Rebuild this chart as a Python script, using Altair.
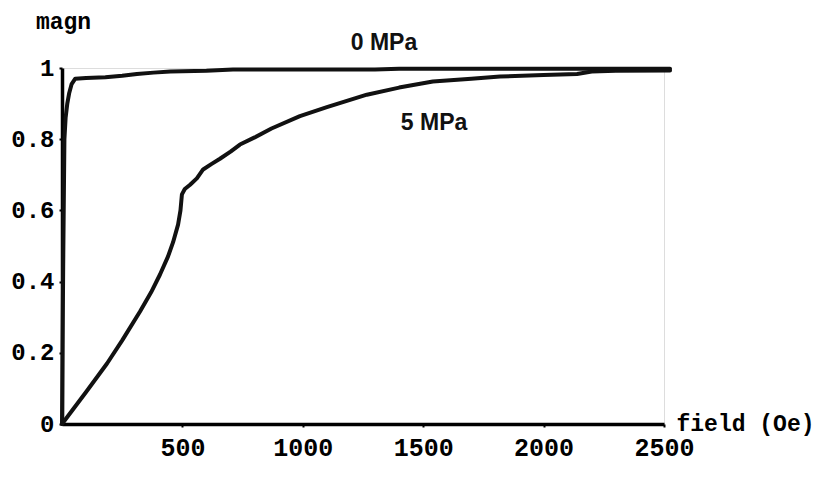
import altair as alt
import pandas as pd

# 0 MPa curve
field_0 = [0, 5, 10, 15, 22, 30, 40, 55, 100, 180, 250, 311, 380, 450, 600, 710, 1300, 1400, 2525]
magn_0 = [0, 0.45, 0.8, 0.86, 0.9, 0.93, 0.955, 0.97, 0.972, 0.974, 0.978, 0.983, 0.987, 0.99,
          0.992, 0.996, 0.996, 0.998, 0.998]

# 5 MPa curve
field_5 = [0, 50, 100, 187, 250, 324, 370, 407, 440, 461, 482, 492, 498, 510, 532, 560, 586, 620,
           656, 700, 739, 800, 870, 988, 1100, 1266, 1400, 1540, 1700, 1819, 2000, 2139, 2200,
           2300, 2525]
magn_5 = [0, 0.045, 0.09, 0.17, 0.235, 0.316, 0.37, 0.42, 0.47, 0.51, 0.56, 0.6, 0.645, 0.66,
          0.672, 0.69, 0.715, 0.73, 0.745, 0.765, 0.785, 0.805, 0.83, 0.865, 0.89, 0.925, 0.945,
          0.962, 0.97, 0.976, 0.98, 0.983, 0.99, 0.992, 0.993]

# curve labels
label_text = ["0 MPa", "5 MPa"]
label_field = [1337, 1545]
label_magn = [1.069, 0.845]

x_ticks = [500, 1000, 1500, 2000, 2500]
y_ticks = [0, 0.2, 0.4, 0.6, 0.8, 1]

rows = []
for f, m in zip(field_0, magn_0):
    rows.append({"field": f, "magn": m, "series": "0 MPa"})
for f, m in zip(field_5, magn_5):
    rows.append({"field": f, "magn": m, "series": "5 MPa"})
df = pd.DataFrame(rows)
df_lab = pd.DataFrame({"text": label_text, "field": label_field, "magn": label_magn})

mono = "Liberation Mono"

xs = alt.Scale(domain=[0, 2500], nice=False, zero=True)
ys = alt.Scale(domain=[0, 1], nice=False)

lines = alt.Chart(df).mark_line(color="#111111", strokeWidth=4, strokeJoin="round",
                                strokeCap="round", clip=False).encode(
    x=alt.X("field:Q", scale=xs,
            axis=alt.Axis(values=x_ticks, format="d", title="field (Oe)",
                          titleX=614, titleY=-1, titleAlign="left", titleBaseline="middle",
                          titleFont=mono, titleFontSize=23, titleFontWeight="bold",
                          labelFont=mono, labelFontSize=25, labelFontWeight="bold",
                          labelPadding=8, tickSize=3, tickColor="black", tickWidth=2,
                          labelFlush=False, labelOverlap=False,
                          domainColor="black", domainWidth=3.5, grid=False,
                          labelColor="black", titleColor="black")),
    y=alt.Y("magn:Q", scale=ys,
            axis=alt.Axis(values=y_ticks, format="~g", title="magn",
                          titleAngle=0, titleX=1, titleY=-47, titleAlign="center",
                          titleBaseline="middle",
                          titleFont=mono, titleFontSize=23, titleFontWeight="bold",
                          labelFont=mono, labelFontSize=24, labelFontWeight="bold",
                          labelPadding=5, tickSize=3, tickColor="black", tickWidth=2,
                          labelFlush=False, labelOverlap=False,
                          domainColor="black", domainWidth=3.5, grid=False,
                          labelColor="black", titleColor="black")),
    detail="series:N",
)

labels = alt.Chart(df_lab).mark_text(font="Liberation Sans", fontSize=23, fontWeight="bold",
                                     color="#111111", align="center", baseline="middle").encode(
    x=alt.X("field:Q", scale=xs),
    y=alt.Y("magn:Q", scale=ys),
    text="text:N",
)

chart = alt.layer(lines, labels).properties(
    width=602, height=356,
    autosize=alt.AutoSizeParams(type="none"),
    padding={"left": 54, "top": 60, "right": 152, "bottom": 38},
).configure_view(stroke="transparent", strokeWidth=0).configure(background="white")

chart.save("out.html", embed_options={"renderer": "svg", "actions": False})
